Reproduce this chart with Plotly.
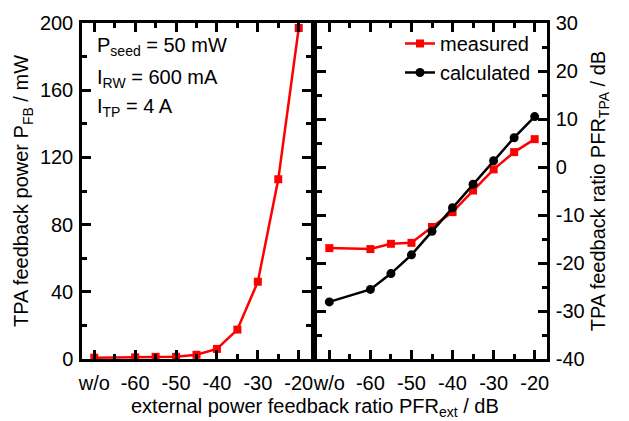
import plotly.graph_objects as go
from plotly.subplots import make_subplots

# x positions (w/o plotted at -70)
x_vals = [-70, -60, -55, -50, -45, -40, -35, -30, -25, -20]
tick_vals = [-70, -60, -50, -40, -30, -20]
tick_text = ["w/o", "-60", "-50", "-40", "-30", "-20"]
y2_tick_vals = [-40, -30, -20, -10, 0, 10, 20, 30]
y2_tick_text = ["-40", "-30", "-20", "-10", "0", "10", "20", "30"]

p_fb = [0.8, 1.0, 1.3, 1.3, 2.5, 6.0, 17.5, 46.0, 107.0, 197.0]
pfr_measured = [-16.9, -17.1, -16.0, -15.8, -12.5, -9.4, -4.9, -0.5, 3.1, 5.8]
pfr_calculated = [-28.1, -25.5, -22.2, -18.3, -13.4, -8.5, -3.6, 1.3, 6.1, 10.5]

FONT = "Liberation Sans, Arial, sans-serif"
FS = 20
W, H = 629, 421
ML, MR, MT, MB = 82, 82, 15, 62
PW = W - ML - MR
PH = H - MT - MB
split1 = (311 - ML) / PW
split2 = (317 - ML) / PW

fig = make_subplots(rows=1, cols=2, horizontal_spacing=split2 - split1)
fig.update_layout(
    xaxis=dict(domain=[0, split1]),
    xaxis2=dict(domain=[split2, 1]),
)

fig.add_trace(go.Scatter(x=x_vals, y=p_fb, mode="lines+markers",
                         line=dict(color="#ff0000", width=2.5),
                         marker=dict(symbol="square", size=8, color="#ff0000"),
                         showlegend=False), row=1, col=1)
fig.add_trace(go.Scatter(x=x_vals, y=pfr_measured, mode="lines+markers", name="measured",
                         line=dict(color="#ff0000", width=2.5),
                         marker=dict(symbol="square", size=8, color="#ff0000")), row=1, col=2)
fig.add_trace(go.Scatter(x=x_vals, y=pfr_calculated, mode="lines+markers", name="calculated",
                         line=dict(color="#000000", width=2.5),
                         marker=dict(symbol="circle", size=9, color="#000000")), row=1, col=2)

axis_common = dict(showline=True, linecolor="black", linewidth=2.5, mirror="ticks",
                   ticks="inside", ticklen=9, tickwidth=2.5, tickcolor="black",
                   showgrid=False, zeroline=False,
                   tickfont=dict(family=FONT, size=FS, color="black"))
minor_common = dict(ticks="inside", ticklen=5, tickwidth=2.5, tickcolor="black")

for xa in ["xaxis", "xaxis2"]:
    fig.update_layout({xa: dict(range=[-73, -17], tickmode="array", tickvals=tick_vals,
                                ticktext=tick_text, ticklabelstandoff=4,
                                minor=dict(dtick=5, tick0=-70, **minor_common),
                                **axis_common)})

fig.update_layout(
    yaxis=dict(range=[0, 200], tickvals=[0, 40, 80, 120, 160, 200], ticklabelstandoff=2,
               minor=dict(dtick=20, **minor_common),
               title=dict(text="TPA feedback power P<sub>FB</sub> / mW",
                          font=dict(family=FONT, size=FS, color="black"), standoff=6),
               **axis_common),
    yaxis2=dict(range=[-40, 30], tickmode="array", tickvals=y2_tick_vals,
                ticktext=y2_tick_text, side="right", ticklabelstandoff=2,
                minor=dict(dtick=5, **minor_common),
                title=dict(text="TPA feedback ratio PFR<sub>TPA</sub> / dB",
                           font=dict(family=FONT, size=FS, color="black"), standoff=8),
                **axis_common),
)

fig.add_annotation(x=0.5, y=-(MB + 2) / PH, xref="paper", yref="paper",
                   xanchor="center", yanchor="bottom", showarrow=False,
                   text="external power feedback ratio PFR<sub>ext</sub> / dB",
                   font=dict(family=FONT, size=FS, color="black"))

labels = ["P<sub>seed</sub> = 50 mW", "I<sub>RW</sub> = 600 mA", "I<sub>TP</sub> = 4 A"]
label_y = [24, 57, 87]
for txt, yp in zip(labels, label_y):
    fig.add_annotation(x=(95 - ML) / PW, y=1 - (yp - MT) / PH,
                       xref="paper", yref="paper", xanchor="left", yanchor="top",
                       showarrow=False, text=txt,
                       font=dict(family=FONT, size=FS, color="black"))

fig.update_layout(
    width=W, height=H,
    margin=dict(l=ML, r=MR, t=MT, b=MB),
    paper_bgcolor="white", plot_bgcolor="white",
    font=dict(family=FONT, size=FS, color="black"),
    legend=dict(x=(400 - ML) / PW, y=1 - (16 - MT) / PH,
                xanchor="left", yanchor="top", bgcolor="rgba(0,0,0,0)",
                font=dict(family=FONT, size=FS, color="black"), tracegroupgap=0),
)

fig.write_html("out.html")
